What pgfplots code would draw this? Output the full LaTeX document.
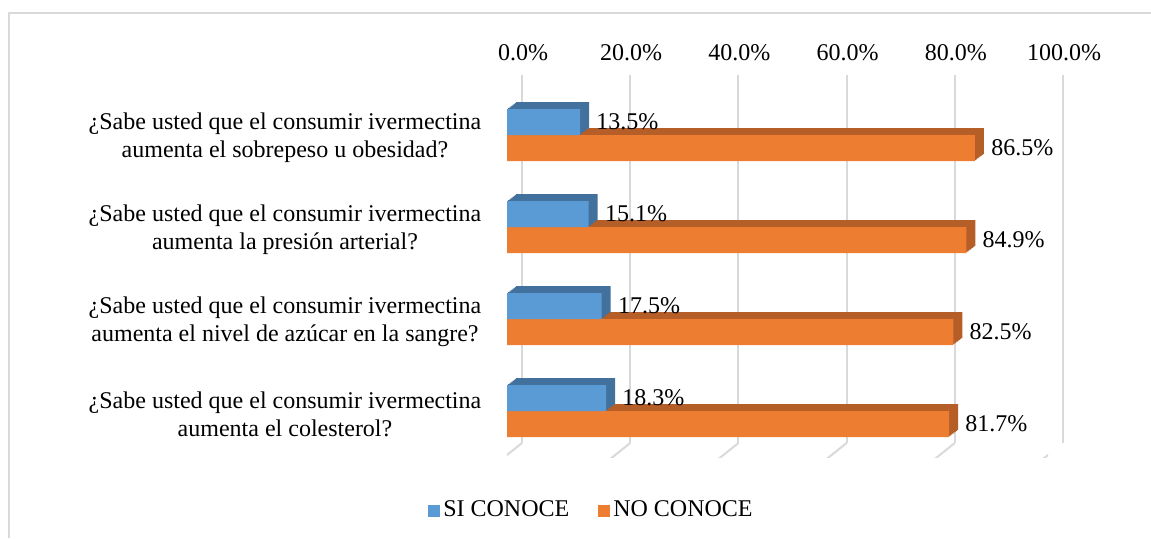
\documentclass[border=0pt]{standalone}
\usepackage{fontspec}
\setmainfont{Liberation Serif}
\usepackage{pgfplots}
\usepackage{pgfplotstable}
\pgfplotsset{compat=1.18}
\definecolor{siblue}{HTML}{5B9BD5}
\definecolor{sibluedark}{HTML}{41719C}
\definecolor{noorange}{HTML}{ED7D31}
\definecolor{noorangedark}{HTML}{B65E28}
\definecolor{gridgray}{HTML}{D9D9D9}
\pgfplotstableread{
y si no
0 18.3 81.7
1 17.5 82.5
2 15.1 84.9
3 13.5 86.5
}\datatable
\begin{document}
\fontsize{12pt}{14pt}\selectfont
\begin{tikzpicture}
\path[use as bounding box] (0,0) rectangle (575.5pt,269pt);
\draw[gridgray, line width=1pt] (4.5pt,0) -- (4.5pt,262.5pt) -- (575.5pt,262.5pt);
\begin{axis}[
  at={(253.5pt,40.5pt)}, anchor=south west,
  scale only axis, width=270.5pt, height=184pt,
  xmin=0, xmax=100, ymin=-0.5, ymax=3.5,
  /pgf/number format/assume math mode=true,
  axis line style={draw=none}, major tick length=0pt,
  xtick={0,20,40,60,80,100},
  xticklabels={0.0\%,20.0\%,40.0\%,60.0\%,80.0\%,100.0\%},
  xticklabel pos=right,
  xticklabel style={anchor=base, xshift=8pt, yshift=14.5pt},
  ytick={0,1,2,3},
  yticklabels={{¿Sabe usted que el consumir ivermectina\\aumenta el colesterol?},
               {¿Sabe usted que el consumir ivermectina\\aumenta el nivel de azúcar en la sangre?},
               {¿Sabe usted que el consumir ivermectina\\aumenta la presión arterial?},
               {¿Sabe usted que el consumir ivermectina\\aumenta el sobrepeso u obesidad?}},
  yticklabel style={align=center, anchor=center, xshift=-111pt, yshift=-1.5pt},
  xmajorgrids, major grid style={gridgray, line width=1pt, xshift=7.5pt, yshift=7pt},
  xbar, bar width=13pt, point meta=x,
  every node near coord/.append style={anchor=west, inner sep=0pt, xshift=8pt},
  legend columns=2,
  legend style={at={(0.157,-0.146)}, anchor=center, draw=none, fill=none,
    inner sep=0pt, nodes={inner sep=1.5pt},
    /tikz/every even column/.append style={column sep=13pt}},
  legend image code/.code={\fill[#1, draw=none] (0pt,-3pt) rectangle (6pt,3pt);},
]
\pgfplotsinvokeforeach{0,20,40,60,80,100}{
  \draw[gridgray, line width=1pt] ([xshift=-2.5pt,yshift=-1pt]axis cs:#1,-0.5) -- ([xshift=7.5pt,yshift=7pt]axis cs:#1,-0.5);
}
\addlegendimage{fill=siblue, draw=none}
\addlegendentry{SI CONOCE}
\addlegendimage{fill=noorange, draw=none}
\addlegendentry{NO CONOCE}
% orange bars (depth then front)
\pgfplotsinvokeforeach{1,2,3,4,5,6,7,8}{
  \addplot[forget plot, draw=none, fill=noorangedark, bar shift={-6.5pt+#1*0.4375pt}, xshift={#1*0.5625pt}]
    table[x=no, y=y]{\datatable};
}
\addplot[forget plot, draw=none, fill=noorange, bar shift=-6.5pt,
  nodes near coords={\pgfmathprintnumber[fixed,fixed zerofill,precision=1]{\pgfplotspointmeta}\%}]
  table[x=no, y=y]{\datatable};
% blue bars
\pgfplotsinvokeforeach{1,2,3,4,5,6,7,8}{
  \addplot[forget plot, draw=none, fill=sibluedark, bar shift={6.5pt+#1*0.4375pt}, xshift={#1*0.5625pt}]
    table[x=si, y=y]{\datatable};
}
\addplot[forget plot, draw=none, fill=siblue, bar shift=6.5pt,
  nodes near coords={\pgfmathprintnumber[fixed,fixed zerofill,precision=1]{\pgfplotspointmeta}\%}]
  table[x=si, y=y]{\datatable};
\end{axis}
\end{tikzpicture}
\end{document}
